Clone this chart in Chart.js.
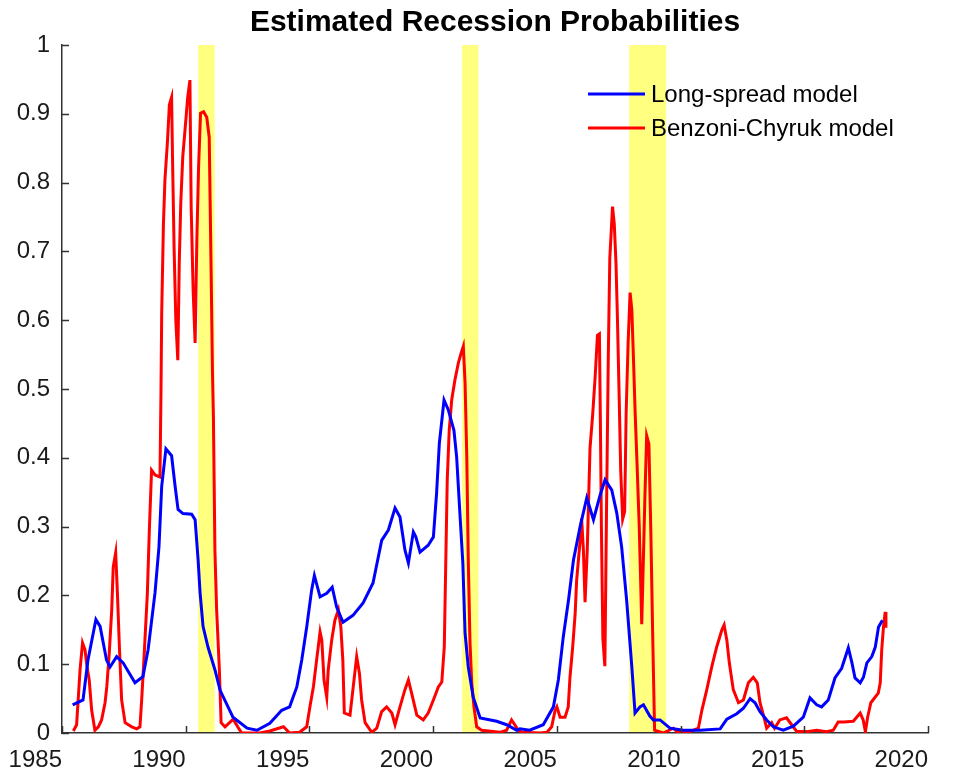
<!DOCTYPE html>
<html>
<head>
<meta charset="utf-8">
<script src="https://cdn.jsdelivr.net/npm/chart.js@4.4.1/dist/chart.umd.min.js"></script>
<style>
  html, body { margin: 0; padding: 0; background: #fff; }
  #wrap { width: 961px; height: 779px; }
</style>
</head>
<body>
<div id="wrap"><canvas id="recChart" width="961" height="779"></canvas></div>
<script>
// tick labels
const xTicks = [1985, 1990, 1995, 2000, 2005, 2010, 2015, 2020]
const yTicks = [0, 0.1, 0.2, 0.3, 0.4, 0.5, 0.6, 0.7, 0.8, 0.9, 1]

// NBER recessions (shaded)
const recStart = [1990.5, 2001.17, 2007.92]
const recEnd = [1991.17, 2001.83, 2009.42]

// Long-spread model
const spreadYears = [1985.43, 1985.85, 1986.05, 1986.37, 1986.54, 1986.8, 1986.94, 1987.21, 1987.47, 1987.95,
  1988.27, 1988.48, 1988.76, 1988.92, 1989.03, 1989.2, 1989.43, 1989.57, 1989.69, 1989.89,
  1990.24, 1990.38, 1990.5, 1990.58, 1990.7, 1990.9, 1991.18, 1991.39, 1991.71, 1991.91,
  1992.48, 1992.88, 1993.4, 1993.88, 1994.2, 1994.49, 1994.69, 1994.89, 1995.09, 1995.2,
  1995.43, 1995.7, 1995.92, 1996.1, 1996.36, 1996.76, 1997.17, 1997.57, 1997.92, 1998.19,
  1998.46, 1998.66, 1998.86, 1999.0, 1999.2, 1999.3, 1999.47, 1999.8, 2000.01, 2000.14,
  2000.25, 2000.44, 2000.61, 2000.84, 2000.95, 2001.09, 2001.2, 2001.29, 2001.42, 2001.62,
  2001.9, 2002.57, 2002.97, 2003.38, 2003.51, 2003.9, 2004.45, 2004.86, 2005.06, 2005.26,
  2005.47, 2005.67, 2005.94, 2006.21, 2006.48, 2006.75, 2006.95, 2007.22, 2007.42, 2007.62,
  2007.82, 2008.03, 2008.16, 2008.36, 2008.5, 2008.75, 2008.9, 2009.17, 2009.57, 2010.11,
  2010.79, 2011.6, 2011.87, 2012.27, 2012.54, 2012.81, 2013.01, 2013.21, 2013.48, 2013.75,
  2014.15, 2014.56, 2014.96, 2015.23, 2015.5, 2015.7, 2015.97, 2016.24, 2016.51, 2016.78,
  2016.92, 2017.05, 2017.26, 2017.39, 2017.53, 2017.73, 2017.87, 2018.0, 2018.16]
const spreadProb = [0.041, 0.048, 0.106, 0.165, 0.155, 0.106, 0.096, 0.111, 0.102, 0.073,
  0.082, 0.121, 0.204, 0.271, 0.359, 0.413, 0.403, 0.359, 0.325, 0.319,
  0.318, 0.31, 0.252, 0.204, 0.155, 0.125, 0.092, 0.062, 0.038, 0.023,
  0.007, 0.004, 0.014, 0.033, 0.038, 0.067, 0.106, 0.154, 0.208, 0.229,
  0.198, 0.203, 0.212, 0.183, 0.161, 0.171, 0.189, 0.218, 0.28, 0.295,
  0.327, 0.314, 0.266, 0.247, 0.292, 0.285, 0.263, 0.273, 0.285, 0.349,
  0.421, 0.484, 0.47, 0.44, 0.401, 0.314, 0.247, 0.145, 0.096, 0.052,
  0.022, 0.017, 0.012, 0.004, 0.006, 0.004, 0.012, 0.038, 0.077, 0.14,
  0.193, 0.251, 0.3, 0.342, 0.31, 0.346, 0.368, 0.353, 0.32, 0.27,
  0.193, 0.096, 0.029, 0.038, 0.041, 0.025, 0.019, 0.019, 0.007, 0.004,
  0.004, 0.006, 0.02, 0.028, 0.036, 0.05, 0.044, 0.031, 0.019, 0.009,
  0.004, 0.01, 0.023, 0.051, 0.041, 0.038, 0.048, 0.08, 0.094, 0.124,
  0.103, 0.08, 0.073, 0.081, 0.102, 0.111, 0.125, 0.154, 0.164]

// Benzoni-Chyruk model
const bcYears = [1985.46, 1985.59, 1985.73, 1985.83, 1985.93, 1986.02, 1986.1, 1986.2, 1986.33, 1986.47,
  1986.6, 1986.74, 1986.81, 1986.91, 1987.01, 1987.07, 1987.17, 1987.24, 1987.32, 1987.41,
  1987.55, 1987.82, 1988.02, 1988.15, 1988.22, 1988.31, 1988.45, 1988.53, 1988.62, 1988.76,
  1988.96, 1989.0, 1989.03, 1989.1, 1989.16, 1989.26, 1989.34, 1989.43, 1989.47, 1989.53,
  1989.6, 1989.68, 1989.74, 1989.8, 1989.88, 1989.98, 1990.08, 1990.17, 1990.22, 1990.3,
  1990.38, 1990.45, 1990.52, 1990.6, 1990.72, 1990.85, 1990.95, 1991.03, 1991.08, 1991.12,
  1991.18, 1991.25, 1991.36, 1991.43, 1991.59, 1991.92, 1992.1, 1992.26, 1993.0, 1993.4,
  1993.95, 1994.2, 1994.6, 1994.89, 1995.02, 1995.16, 1995.29, 1995.43, 1995.5, 1995.59,
  1995.7, 1995.76, 1995.9, 1996.03, 1996.17, 1996.27, 1996.35, 1996.41, 1996.64, 1996.77,
  1996.91, 1997.02, 1997.11, 1997.25, 1997.52, 1997.72, 1997.92, 1998.12, 1998.33, 1998.46,
  1998.66, 1998.86, 1999.0, 1999.13, 1999.34, 1999.6, 1999.8, 2000.01, 2000.21, 2000.35,
  2000.45, 2000.51, 2000.57, 2000.65, 2000.75, 2000.88, 2001.02, 2001.13, 2001.22, 2001.29,
  2001.36, 2001.42, 2001.49, 2001.56, 2001.65, 2001.76, 2001.96, 2002.7, 2002.97, 2003.17,
  2003.3, 2003.44, 2003.6, 2004.32, 2004.6, 2004.79, 2004.93, 2005.0, 2005.13, 2005.33,
  2005.46, 2005.53, 2005.64, 2005.74, 2005.8, 2005.94, 2006.0, 2006.07, 2006.14, 2006.23,
  2006.34, 2006.45, 2006.55, 2006.64, 2006.72, 2006.76, 2006.8, 2006.86, 2006.94, 2007.0,
  2007.08, 2007.14, 2007.25, 2007.32, 2007.39, 2007.45, 2007.52, 2007.58, 2007.66, 2007.74,
  2007.8, 2007.88, 2007.96, 2008.03, 2008.1, 2008.16, 2008.24, 2008.33, 2008.38, 2008.43,
  2008.5, 2008.56, 2008.63, 2008.72, 2008.8, 2008.87, 2008.95, 2009.3, 2009.71, 2009.85,
  2010.38, 2010.72, 2010.86, 2011.06, 2011.26, 2011.46, 2011.67, 2011.76, 2011.87, 2011.97,
  2012.13, 2012.34, 2012.54, 2012.74, 2012.94, 2013.1, 2013.21, 2013.37, 2013.48, 2013.68,
  2013.8, 2014.01, 2014.28, 2014.49, 2014.7, 2015.1, 2015.5, 2015.9, 2016.17, 2016.37,
  2016.6, 2016.98, 2017.26, 2017.38, 2017.47, 2017.56, 2017.69, 2017.86, 2017.99, 2018.07,
  2018.13, 2018.2, 2018.27, 2018.3]
const bcProb = [0.003, 0.012, 0.092, 0.131, 0.121, 0.094, 0.077, 0.033, 0.004, 0.009,
  0.019, 0.044, 0.067, 0.116, 0.179, 0.241, 0.262, 0.203, 0.125, 0.048,
  0.015, 0.009, 0.006, 0.009, 0.048, 0.106, 0.203, 0.295, 0.382, 0.375,
  0.372, 0.494, 0.612, 0.741, 0.804, 0.858, 0.913, 0.924, 0.829, 0.706,
  0.6, 0.542, 0.685, 0.77, 0.837, 0.88, 0.924, 0.949, 0.765, 0.644,
  0.567, 0.717, 0.823, 0.901, 0.903, 0.895, 0.866, 0.663, 0.528, 0.459,
  0.266, 0.179, 0.092, 0.015, 0.009, 0.02, 0.009, 0.0, 0.0, 0.003,
  0.009, 0.0, 0.001, 0.009, 0.038, 0.067, 0.106, 0.147, 0.135, 0.077,
  0.052, 0.092, 0.135, 0.164, 0.179, 0.154, 0.106, 0.029, 0.026, 0.067,
  0.111, 0.087, 0.048, 0.015, 0.001, 0.007, 0.031, 0.038, 0.029, 0.012,
  0.038, 0.063, 0.077, 0.058, 0.026, 0.019, 0.029, 0.048, 0.067, 0.074,
  0.125, 0.247, 0.368, 0.44, 0.484, 0.513, 0.538, 0.552, 0.562, 0.509,
  0.401, 0.251, 0.131, 0.073, 0.038, 0.009, 0.004, 0.001, 0.004, 0.019,
  0.012, 0.004, 0.001, 0.0, 0.001, 0.009, 0.033, 0.038, 0.023, 0.023,
  0.038, 0.081, 0.125, 0.174, 0.222, 0.28, 0.312, 0.268, 0.19, 0.268,
  0.414, 0.464, 0.519, 0.578, 0.58, 0.45, 0.3, 0.137, 0.097, 0.3,
  0.55, 0.69, 0.765, 0.74, 0.683, 0.6, 0.486, 0.382, 0.311, 0.322,
  0.464, 0.567, 0.64, 0.615, 0.54, 0.47, 0.392, 0.3, 0.23, 0.158,
  0.257, 0.345, 0.432, 0.42, 0.29, 0.148, 0.004, 0.0, 0.007, 0.002,
  0.002, 0.007, 0.033, 0.063, 0.096, 0.125, 0.15, 0.157, 0.135, 0.102,
  0.063, 0.044, 0.048, 0.073, 0.081, 0.073, 0.044, 0.023, 0.007, 0.015,
  0.007, 0.019, 0.022, 0.012, 0.002, 0.002, 0.004, 0.002, 0.004, 0.016,
  0.016, 0.017, 0.029, 0.019, 0.002, 0.023, 0.044, 0.052, 0.058, 0.073,
  0.121, 0.154, 0.176, 0.153]

const axisColor = '#333333'
const fontFamily = '"Liberation Sans", Arial, Helvetica, sans-serif'

// yellow recession bars behind everything
const recessionBands = {
  id: 'recessionBands',
  beforeDraw(chart) {
    const {ctx, chartArea, scales} = chart
    ctx.save()
    ctx.fillStyle = '#ffff80'
    for (let i = 0; i < recStart.length; i++) {
      const x0 = scales.x.getPixelForValue(recStart[i])
      const x1 = scales.x.getPixelForValue(recEnd[i])
      ctx.fillRect(x0, chartArea.top, x1 - x0, chartArea.bottom - chartArea.top)
    }
    ctx.restore()
  }
}

// matlab style ticks pointing into the axes
const innerTicks = {
  id: 'innerTicks',
  afterDraw(chart) {
    const {ctx, chartArea, scales} = chart
    ctx.save()
    ctx.strokeStyle = axisColor
    ctx.lineWidth = 1.5
    ctx.beginPath()
    yTicks.forEach(v => {
      const y = Math.round(scales.y.getPixelForValue(v)) + 0.5
      ctx.moveTo(chartArea.left, y)
      ctx.lineTo(chartArea.left + 7, y)
    })
    xTicks.forEach(v => {
      const x = Math.round(scales.x.getPixelForValue(v)) + 0.5
      ctx.moveTo(x, chartArea.bottom)
      ctx.lineTo(x, chartArea.bottom - 7)
    })
    ctx.stroke()
    ctx.restore()
  }
}

// legend sitting inside the axes, no box
const insideLegend = {
  id: 'insideLegend',
  afterDatasetsDraw(chart) {
    const {ctx, chartArea} = chart
    ctx.save()
    ctx.font = '24px ' + fontFamily
    ctx.textBaseline = 'middle'
    chart.data.datasets.forEach((ds, i) => {
      const y = chartArea.top + 49 + i * 34
      const x0 = chartArea.left + 526
      ctx.strokeStyle = ds.borderColor
      ctx.lineWidth = ds.borderWidth
      ctx.beginPath()
      ctx.moveTo(x0, y)
      ctx.lineTo(x0 + 57, y)
      ctx.stroke()
      ctx.fillStyle = '#000'
      ctx.fillText(ds.label, x0 + 63, y + 1)
    })
    ctx.restore()
  }
}

const ctxR = document.getElementById('recChart').getContext('2d')

const toPoints = (xs, ys) => xs.map((x, i) => ({x: x, y: ys[i]}))

const recChart = new Chart(ctxR, {
  type: 'line',
  data: {
    datasets: [
      {
        label: 'Long-spread model',
        data: toPoints(spreadYears, spreadProb),
        borderColor: '#0000ff',
        borderWidth: 3,
        pointRadius: 0,
        tension: 0,
        fill: false
      },
      {
        label: 'Benzoni-Chyruk model',
        data: toPoints(bcYears, bcProb),
        borderColor: '#ff0000',
        borderWidth: 3,
        pointRadius: 0,
        tension: 0,
        fill: false
      }
    ]
  },
  options: {
    responsive: false,
    animation: false,
    devicePixelRatio: 1,
    layout: {padding: {left: 0, right: 33, top: 0, bottom: 0}},
    plugins: {
      legend: {display: false},
      tooltip: {enabled: false},
      title: {
        display: true,
        fullSize: false,
        text: 'Estimated Recession Probabilities',
        color: '#000',
        font: {family: fontFamily, size: 30, weight: 'bold'},
        padding: {top: 5, bottom: 4}
      }
    },
    scales: {
      x: {
        type: 'linear',
        min: 1985,
        max: 2020,
        afterBuildTicks: s => { s.ticks = xTicks.map(v => ({value: v})) },
        afterFit: s => {
          s.height = 46
          s.paddingLeft = 0
          s.paddingRight = 0
        },
        grid: {display: false, drawTicks: false},
        border: {display: true, color: axisColor, width: 1.5},
        ticks: {
          padding: 13,
          align: 'end',
          maxRotation: 0,
          color: '#1a1a1a',
          font: {family: fontFamily, size: 24},
          callback: v => String(v)
        }
      },
      y: {
        type: 'linear',
        min: 0,
        max: 1,
        afterBuildTicks: s => { s.ticks = yTicks.map(v => ({value: v})) },
        afterFit: s => { s.width = 62 },
        grid: {display: false, drawTicks: false},
        border: {display: true, color: axisColor, width: 1.5},
        ticks: {
          padding: 12,
          color: '#1a1a1a',
          font: {family: fontFamily, size: 24},
          callback: v => String(v)
        }
      }
    }
  },
  plugins: [recessionBands, innerTicks, insideLegend]
})
</script>
</body>
</html>
